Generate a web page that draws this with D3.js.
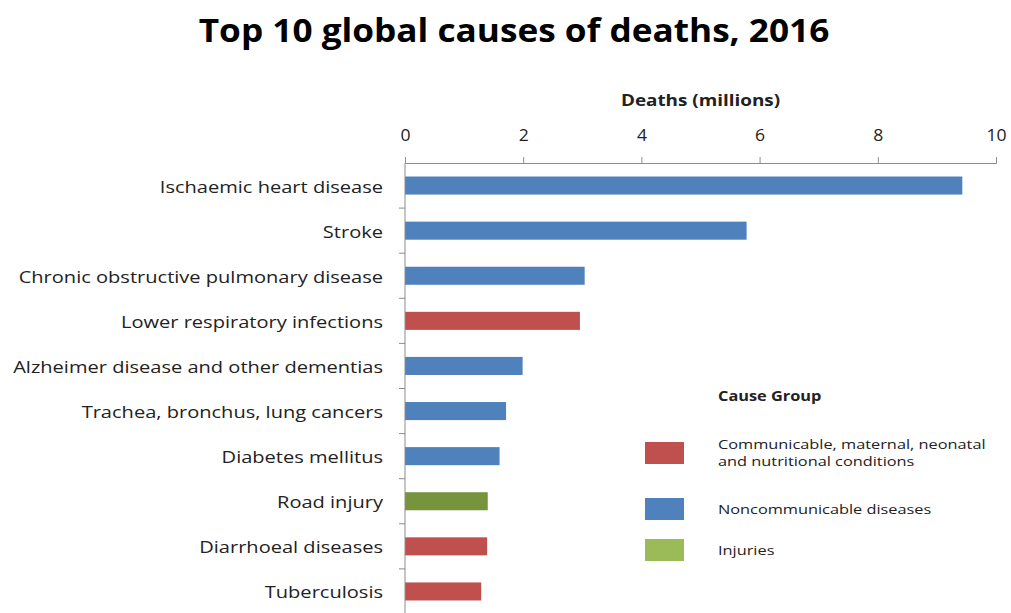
<!DOCTYPE html>
<html>
<head>
<meta charset="utf-8">
<script src="https://cdn.jsdelivr.net/npm/d3@7"></script>
<style>
  body { margin: 0; background: #fff; }
  text { font-family: "Open Sans", "DejaVu Sans", sans-serif; fill: #222; }
  .chart-title { font-size: 32px; font-weight: bold; fill: #000; }
  .axis-title { font-size: 16px; font-weight: bold; }
  .cat-label { font-size: 17px; }
  .tick-label { font-size: 16px; }
  .legend-title { font-size: 13.5px; font-weight: bold; }
  .legend-text { font-size: 13.5px; }
</style>
</head>
<body>
<div id="chart"></div>
<script>
const causes = ['Ischaemic heart disease', 'Stroke', 'Chronic obstructive pulmonary disease',
  'Lower respiratory infections', 'Alzheimer disease and other dementias',
  'Trachea, bronchus, lung cancers', 'Diabetes mellitus', 'Road injury',
  'Diarrhoeal diseases', 'Tuberculosis'];
const deaths = [9.43, 5.78, 3.04, 2.96, 1.99, 1.71, 1.6, 1.4, 1.39, 1.29];
const causeGroup = ['ncd', 'ncd', 'ncd', 'cmn', 'ncd', 'ncd', 'ncd', 'inj', 'cmn', 'cmn'];
const groups = ['cmn', 'ncd', 'inj'];
const groupNames = [['Communicable, maternal, neonatal', 'and nutritional conditions'],
  ['Noncommunicable diseases'], ['Injuries']];
const xTicks = [0, 2, 4, 6, 8, 10];

const W = 1011, H = 613;
const margin = { top: 163, left: 405, right: 15 };
const width = W - margin.left - margin.right;
const height = 451;

const svg = d3.select('#chart').append('svg')
  .attr('width', W)
  .attr('height', H);

// put a text at (x, y), stretched sideways like the source font
function place(sel, x, y, sx) {
  return sel.attr('transform', (d, i) => {
    const px = typeof x === 'function' ? x(d, i) : x;
    const py = typeof y === 'function' ? y(d, i) : y;
    return 'translate(' + px + ',' + py + ') scale(' + sx + ',1)';
  });
}

const x = d3.scaleLinear().domain([0, 10]).range([0, width]);
const y = d3.scaleBand().domain(causes).range([0, height]).paddingInner(0.6).paddingOuter(0.3);
const yb = d3.scaleBand().domain(causes).range([0, height]);

const barColor = d3.scaleOrdinal().domain(groups).range(['#C0504D', '#4F81BD', '#77933C']);
const legendColor = d3.scaleOrdinal().domain(groups).range(['#C0504D', '#4F81BD', '#9BBB59']);

place(svg.append('text'), 514, 42, 1.1)
  .attr('class', 'chart-title')
  .attr('text-anchor', 'middle')
  .text('Top 10 global causes of deaths, 2016');

const g = svg.append('g')
  .attr('transform', 'translate(' + margin.left + ',' + margin.top + ')');

// bars
g.selectAll('rect.bar').data(causes)
  .enter().append('rect')
  .attr('class', 'bar')
  .attr('x', 0)
  .attr('y', d => y(d))
  .attr('width', (d, i) => x(deaths[i]))
  .attr('height', y.bandwidth())
  .attr('fill', (d, i) => barColor(causeGroup[i]));

// x axis on top
const xAxis = g.append('g')
  .attr('font-family', null).attr('font-size', null)
  .call(d3.axisTop(x).tickValues(xTicks).tickSize(6).tickPadding(16).tickFormat(d3.format('d')));
xAxis.select('.domain').attr('stroke', '#8c8c8c');
xAxis.selectAll('.tick line').attr('stroke', '#8c8c8c');
xAxis.selectAll('.tick text')
  .attr('class', 'tick-label')
  .attr('fill', '#222')
  .attr('transform', 'scale(1.1,1)');

// y axis: ticks between categories
const yAxis = g.append('g');
yAxis.append('line')
  .attr('x1', 0).attr('x2', 0)
  .attr('y1', 0).attr('y2', height)
  .attr('stroke', '#8c8c8c');
yAxis.selectAll('line.sep').data(causes)
  .enter().append('line')
  .attr('class', 'sep')
  .attr('x1', -6).attr('x2', 0)
  .attr('y1', d => yb(d) + yb.bandwidth())
  .attr('y2', d => yb(d) + yb.bandwidth())
  .attr('stroke', '#8c8c8c');

place(g.selectAll('text.cat-label').data(causes).enter().append('text'),
    -22, d => yb(d) + yb.bandwidth() / 2 + 1, 1.18)
  .attr('class', 'cat-label')
  .attr('dy', '0.35em')
  .attr('text-anchor', 'end')
  .text(d => d);

place(svg.append('text'), x(5) + margin.left, 106, 1.18)
  .attr('class', 'axis-title')
  .attr('text-anchor', 'middle')
  .text('Deaths (millions)');

// legend
const legend = svg.append('g').attr('transform', 'translate(645,0)');
place(legend.append('text'), 73, 401, 1.21)
  .attr('class', 'legend-title')
  .text('Cause Group');

const legendY = d3.scaleOrdinal().domain(groups).range([453, 509, 550]);
const item = legend.selectAll('g.item').data(groups)
  .enter().append('g').attr('class', 'item');
item.append('rect')
  .attr('x', 0)
  .attr('y', d => legendY(d) - 11)
  .attr('width', 39)
  .attr('height', 22)
  .attr('fill', d => legendColor(d));
item.each(function(d, i) {
  const lines = groupNames[i];
  const t = place(d3.select(this).append('text'), 73, legendY(d) - (lines.length - 1) * 8.5, 1.21)
    .attr('class', 'legend-text');
  lines.forEach((l, k) => {
    t.append('tspan').attr('x', 0).attr('dy', k === 0 ? '0.35em' : '17px').text(l);
  });
});
</script>
</body>
</html>
